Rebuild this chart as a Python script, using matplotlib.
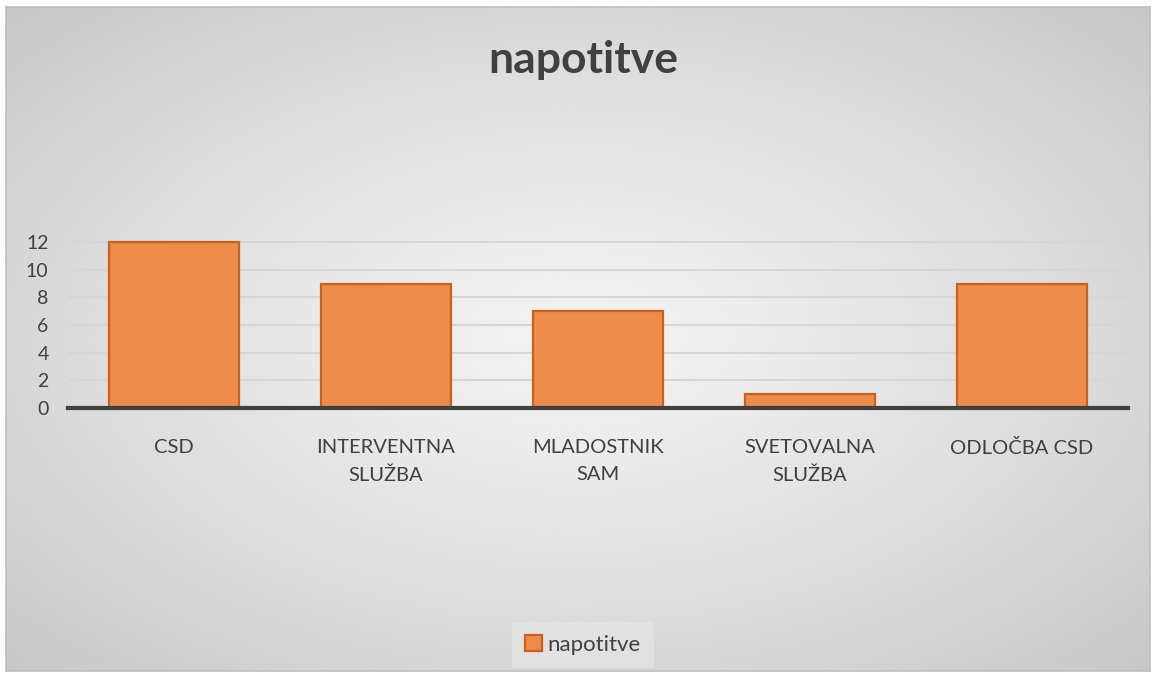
import numpy as np
import matplotlib
matplotlib.use("Agg")
import matplotlib.pyplot as plt
from matplotlib.patches import Rectangle

categories = ["CSD", "INTERVENTNA\nSLUŽBA", "MLADOSTNIK\nSAM", "SVETOVALNA\nSLUŽBA", "ODLOČBA CSD"]
values = [12, 9, 7, 1, 9]
series_name = "napotitve"
title = "napotitve"
yticks = [0, 2, 4, 6, 8, 10, 12]

plt.rcParams['font.family'] = ['Lato', 'DejaVu Sans']

W, H = 1155, 675
fig = plt.figure(figsize=(W/100, H/100), dpi=100)
fig.patch.set_facecolor('white')

# background gradient (chart area)
x0, y0, x1, y1 = 6, 7, 1150, 671
bg = fig.add_axes([x0/W, 1-y1/H, (x1-x0)/W, (y1-y0)/H])
yy, xx = np.mgrid[-1:1:300j, -1:1:500j]
r = np.sqrt(xx**2 + yy**2) / np.sqrt(2)
img = 0.95 - 0.17 * r**1.3
bg.imshow(img, cmap='gray', vmin=0, vmax=1, aspect='auto', extent=[0, 1, 0, 1], interpolation='bicubic')
bg.set_xlim(0, 1); bg.set_ylim(0, 1)
bg.set_xticks([]); bg.set_yticks([])
for s in bg.spines.values():
    s.set_color('#bfbfbf'); s.set_linewidth(1.2)

# main axes: plot area x 68..1128, y(0)=408, y(12)=242
px0, px1 = 68, 1128
py0 = 408
ppu = (408 - 242) / 12.0
ytop = 12.4
ax = fig.add_axes([px0/W, 1-py0/H, (px1-px0)/W, ytop*ppu/H])
ax.patch.set_alpha(0)
x = np.arange(len(categories))
ax.bar(x, values, width=0.61, color='#ec8b4a', edgecolor='#c9601c', linewidth=1.6, zorder=3,
       label=series_name)
ax.set_xlim(-0.5, len(categories)-0.5)
ax.set_ylim(0, ytop)
ax.set_yticks(yticks)
ax.set_yticklabels([str(v) for v in yticks], fontsize=14, color='#404040')
ax.set_xticks(x)
ax.set_xticklabels(categories, fontsize=14.5, color='#404040', linespacing=1.75)
ax.tick_params(axis='both', length=0)
ax.tick_params(axis='x', pad=22)
ax.tick_params(axis='y', pad=14)
ax.yaxis.grid(True, color='#d6d6d6', linewidth=1.5, zorder=0)
for s in ['top', 'right', 'left']:
    ax.spines[s].set_visible(False)
ax.spines['bottom'].set_color('#404040')
ax.spines['bottom'].set_linewidth(3)
ax.spines['bottom'].set_zorder(4)

fig.text(583/W, 1-60/H, title, ha='center', va='center', fontsize=32, fontweight='bold', color='#404040')

leg = fig.legend(handles=[Rectangle((0, 0), 1, 1, facecolor='#ec8b4a', edgecolor='#c9601c', linewidth=1.6)],
                 labels=[series_name], loc='center', bbox_to_anchor=(583/W, 1-645/H),
                 fontsize=16, frameon=True, fancybox=False, handlelength=0.75, handleheight=0.75,
                 handletextpad=0.25, borderpad=0.6)
leg.get_frame().set_facecolor('#e4e4e4')
leg.get_frame().set_edgecolor('none')
for t in leg.get_texts():
    t.set_color('#404040')

fig.savefig('out.png', dpi=100)
